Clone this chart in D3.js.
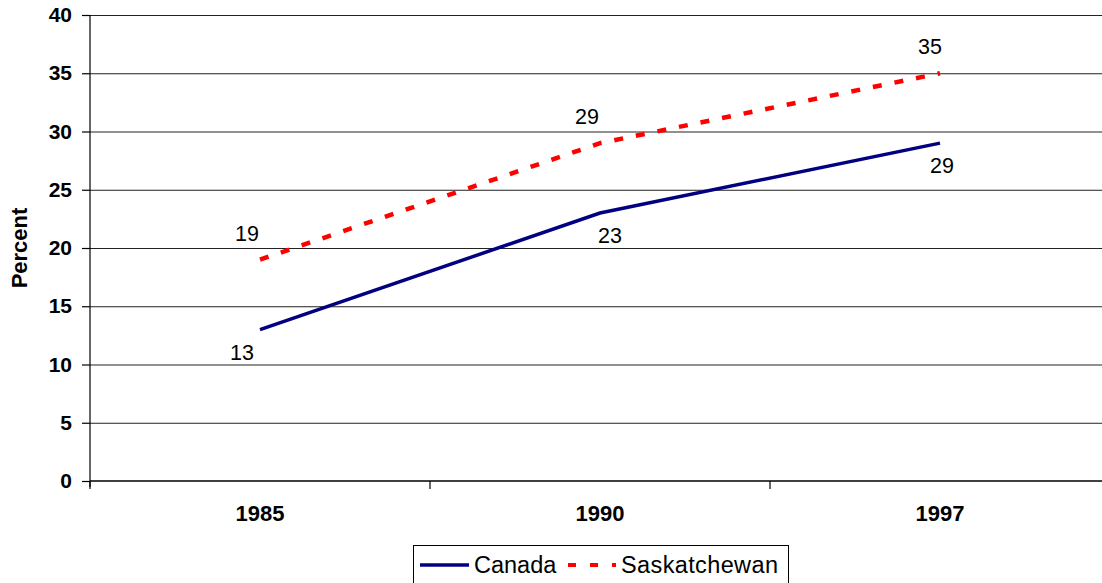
<!DOCTYPE html>
<html><head><meta charset="utf-8">
<script src="https://cdn.jsdelivr.net/npm/d3@7"></script>
<style>body{margin:0;background:#fff}svg{display:block}text{font-family:Arial,"Liberation Sans",sans-serif}</style>
</head><body>
<svg id="c" width="1102" height="583"></svg>
<script>
const years = ["1985", "1990", "1997"];
const canada = [13, 23, 29];
const saskatchewan = [19, 29, 35];
const yTicks = [0, 5, 10, 15, 20, 25, 30, 35, 40];
const seriesNames = ["Canada", "Saskatchewan"];

const FONT = "Arial, 'Liberation Sans', sans-serif";
const svg = d3.select("#c");
const L = 90, R = 1110, T = 15, B = 481;
const x = d3.scaleBand().domain(years).range([L, R]).padding(0);
const y = d3.scaleLinear().domain([0, 40]).range([B, T]);
const cx = d => x(d) + x.bandwidth() / 2;

// gridlines
svg.append("g").selectAll("line").data(yTicks.filter(t => t > 0)).join("line")
  .attr("x1", L).attr("x2", 1102).attr("y1", d => y(d) + 0.5).attr("y2", d => y(d) + 0.5)
  .attr("stroke", "#222").attr("stroke-width", 1);

// y axis
const ya = svg.append("g").attr("transform", `translate(${L},0)`)
  .call(d3.axisLeft(y).tickValues(yTicks).tickSize(8).tickPadding(10));
ya.select(".domain").attr("stroke", "#000").attr("stroke-width", 1.2).attr("d", `M-0,${T}V${B + 6}`);
ya.selectAll(".tick line").attr("stroke", "#000").attr("stroke-width", 1.2);
ya.selectAll("text").attr("font-size", 21).attr("font-weight", "bold").attr("fill", "#000")
  .attr("font-family", FONT);

// x axis
const xa = svg.append("g").attr("transform", `translate(0,${B})`)
  .call(d3.axisBottom(x).tickSize(0).tickPadding(24));
xa.select(".domain").remove();
xa.selectAll("text").attr("font-size", 22).attr("font-weight", "bold").attr("fill", "#000")
  .attr("font-family", FONT);
svg.append("line").attr("x1", L).attr("x2", 1102).attr("y1", B).attr("y2", B).attr("stroke", "#000").attr("stroke-width", 1.6);
svg.append("g").selectAll("line").data(d3.range(years.length + 1)).join("line")
  .attr("x1", i => L + i * x.bandwidth()).attr("x2", i => L + i * x.bandwidth())
  .attr("y1", B).attr("y2", B + 8).attr("stroke", "#000").attr("stroke-width", 1.2);

// y title
svg.append("text").attr("transform", `translate(27,${(T + B) / 2}) rotate(-90)`)
  .attr("text-anchor", "middle").attr("font-size", 22).attr("font-weight", "bold").text("Percent");

const line = d3.line().x((d, i) => cx(years[i])).y(d => y(d));
svg.append("path").datum(canada).attr("d", line).attr("fill", "none")
  .attr("stroke", "#000080").attr("stroke-width", 3.5);
svg.append("path").datum(saskatchewan).attr("d", line).attr("fill", "none")
  .attr("stroke", "#ff0000").attr("stroke-width", 4.5).attr("stroke-dasharray", "9,13");

// data labels
const canDx = [-18, 10, 2], sasDx = [-13, -13, -10];
svg.append("g").selectAll("text").data(canada).join("text")
  .attr("x", (d, i) => cx(years[i]) + canDx[i]).attr("y", d => y(d) + 30)
  .attr("text-anchor", "middle").attr("font-size", 21.5).text(d => d);
svg.append("g").selectAll("text").data(saskatchewan).join("text")
  .attr("x", (d, i) => cx(years[i]) + sasDx[i]).attr("y", d => y(d) - 19)
  .attr("text-anchor", "middle").attr("font-size", 21.5).text(d => d);

// legend
const lg = svg.append("g");
lg.append("rect").attr("x", 413.5).attr("y", 545.5).attr("width", 375).attr("height", 45)
  .attr("fill", "#fff").attr("stroke", "#000").attr("stroke-width", 1);
lg.append("line").attr("x1", 420).attr("x2", 469).attr("y1", 565).attr("y2", 565)
  .attr("stroke", "#000080").attr("stroke-width", 3.5);
lg.append("text").attr("x", 474).attr("y", 573).attr("font-size", 23.5).text(seriesNames[0]);
lg.append("line").attr("x1", 568).attr("x2", 616).attr("y1", 565).attr("y2", 565)
  .attr("stroke", "#ff0000").attr("stroke-width", 4).attr("stroke-dasharray", "8,14");
lg.append("text").attr("x", 621).attr("y", 573).attr("font-size", 23.5).attr("textLength", 157).text(seriesNames[1]);
</script>
</body></html>
